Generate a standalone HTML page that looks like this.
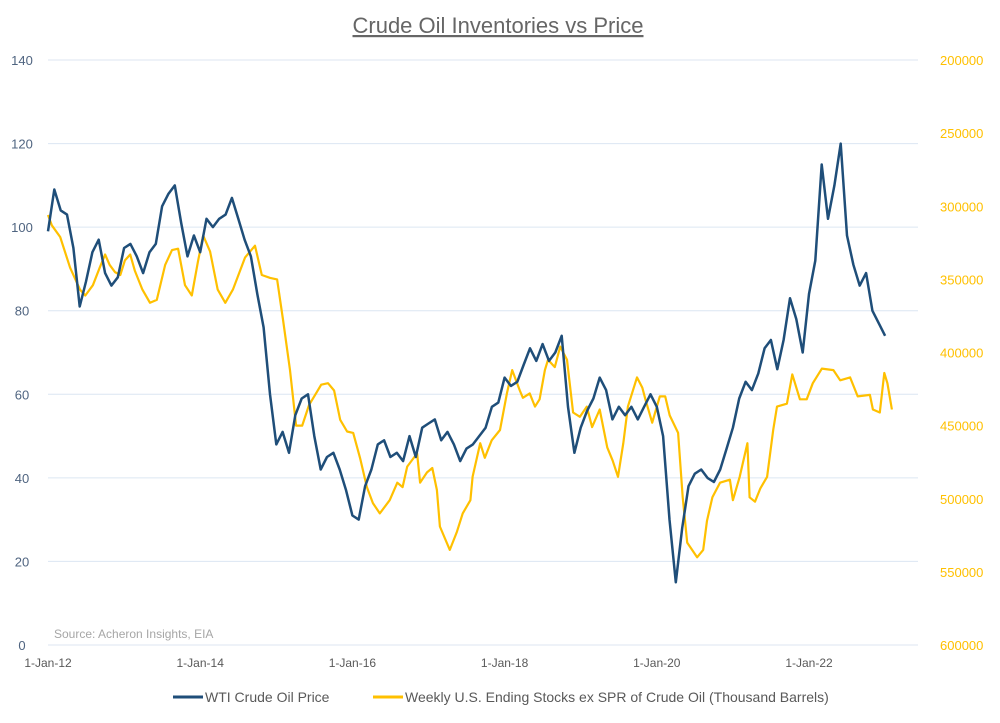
<!DOCTYPE html>
<html><head><meta charset="utf-8"><style>
body{margin:0;background:#fff}
svg{display:block;font-family:"Liberation Sans",sans-serif}
</style></head><body>
<svg id="chart" width="1000" height="723" viewBox="0 0 1000 723">
<text x="498" y="33" text-anchor="middle" font-size="22" fill="#666666" text-decoration="underline">Crude Oil Inventories vs Price</text>
<g id="grid"></g><g id="ylab"></g><g id="y2lab"></g><g id="xlab"></g>
<text x="54" y="638" font-size="12" fill="#a6a6a6">Source: Acheron Insights, EIA</text>
<g id="series"></g>
<g>
<g><line x1="173" y1="697" x2="203" y2="697" stroke="#1f4e79" stroke-width="3"/><text x="205" y="702" font-size="14" fill="#595959">WTI Crude Oil Price</text></g>
<g><line x1="373" y1="697" x2="403" y2="697" stroke="#ffc000" stroke-width="3"/><text x="405" y="702" font-size="14" fill="#595959">Weekly U.S. Ending Stocks ex SPR of Crude Oil  (Thousand Barrels)</text></g>
</g>
</svg>
<script>
const priceStartYear = 2012;
const priceValues = [
99,109,104,103,95,81,87,94,97,89,86,88,
95,96,93,89,94,96,105,108,110,101,93,98,
94,102,100,102,103,107,102,97,93,84,76,60,
48,51,46,55,59,60,50,42,45,46,42,37,
31,30,38,42,48,49,45,46,44,50,45,52,
53,54,49,51,48,44,47,48,50,52,57,58,
64,62,63,67,71,68,72,68,70,74,57,46,
52,56,59,64,61,54,57,55,57,54,57,60,
57,50,30,15,28,38,41,42,40,39,42,47,
52,59,63,61,65,71,73,66,73,83,78,70,
84,92,115,102,110,120,98,91,86,89,80,77,
74];
const stockDates = [2012.0,2012.05,2012.16,2012.29,2012.42,2012.49,2012.59,2012.68,2012.75,2012.81,2012.88,2012.95,2013.01,2013.08,2013.14,2013.24,2013.34,2013.43,2013.54,2013.63,2013.71,2013.8,2013.89,2013.97,2014.04,2014.13,2014.23,2014.33,2014.43,2014.59,2014.72,2014.81,2014.92,2015.01,2015.09,2015.18,2015.26,2015.34,2015.43,2015.51,2015.59,2015.68,2015.76,2015.84,2015.93,2016.01,2016.1,2016.19,2016.27,2016.36,2016.49,2016.59,2016.66,2016.72,2016.85,2016.89,2016.98,2017.05,2017.11,2017.15,2017.28,2017.37,2017.45,2017.55,2017.58,2017.68,2017.74,2017.83,2017.94,2018.03,2018.1,2018.2,2018.24,2018.33,2018.4,2018.46,2018.53,2018.57,2018.66,2018.73,2018.82,2018.9,2018.99,2019.08,2019.15,2019.25,2019.35,2019.42,2019.49,2019.56,2019.62,2019.74,2019.81,2019.85,2019.94,2020.04,2020.11,2020.17,2020.28,2020.34,2020.4,2020.53,2020.61,2020.66,2020.73,2020.83,2020.96,2021.0,2021.09,2021.19,2021.22,2021.29,2021.36,2021.45,2021.53,2021.58,2021.71,2021.78,2021.88,2021.97,2022.05,2022.17,2022.32,2022.41,2022.54,2022.64,2022.8,2022.84,2022.93,2022.99,2023.03,2023.09];
const stockValues = [306000,313000,321000,342000,357000,361000,354000,342000,333000,340000,345000,347000,337000,333000,344000,357000,366000,364000,340000,330000,329000,354000,361000,338000,320000,331000,357000,366000,357000,335000,327000,347000,349000,350000,378000,412000,450000,450000,436000,429000,422000,421000,426000,446000,454000,455000,472000,492000,503000,510000,501000,489000,492000,478000,469000,489000,482000,479000,494000,519000,535000,523000,510000,501000,485000,462000,472000,460000,453000,428000,412000,426000,431000,428000,437000,432000,412000,405000,410000,396000,405000,441000,444000,437000,451000,439000,465000,474000,485000,462000,437000,417000,424000,432000,448000,430000,430000,443000,455000,499000,530000,540000,535000,515000,499000,489000,487000,501000,485000,462000,499000,502000,493000,485000,453000,437000,435000,415000,432000,432000,421000,411000,412000,419000,417000,430000,429000,439000,441000,414000,421000,439000];
const leftTicks = [0,20,40,60,80,100,120,140];
const rightTicks = [200000,250000,300000,350000,400000,450000,500000,550000,600000];
const xTickLabels = ["1-Jan-12","1-Jan-14","1-Jan-16","1-Jan-18","1-Jan-20","1-Jan-22"];
const xTickYears = [2012,2014,2016,2018,2020,2022];

const NS="http://www.w3.org/2000/svg";
const X0=48,X1=918,YT=60,YB=645;
const xs=t=>X0+(t-2012)*76.1;
const yL=v=>YB-(v/140)*(YB-YT);
const yR=v=>YT+((v-200000)/400000)*(YB-YT);
function mk(tag,attrs,parent,text){const e=document.createElementNS(NS,tag);for(const k in attrs)e.setAttribute(k,attrs[k]);if(text!==undefined)e.textContent=text;document.getElementById(parent).appendChild(e);return e;}
leftTicks.forEach(v=>{
  const g=mk('line',{x1:X0,x2:X1,y1:yL(v),y2:yL(v),stroke:'#dce6f2','stroke-width':1},'grid');
  
  
  const t=mk('text',{x:22,y:yL(v)+5,'text-anchor':'middle','font-size':13,fill:'#4f6480'},'ylab',String(v));
  
  
});
rightTicks.forEach(v=>{
  const t=mk('text',{x:940,y:yR(v)+5,'font-size':13,fill:'#ffc000'},'y2lab',String(v));
  
  
});
xTickLabels.forEach((s,i)=>{
  const t=mk('text',{x:xs(xTickYears[i]),y:667,'text-anchor':'middle','font-size':12,fill:'#595959'},'xlab',s);
  
  
});
const sp=stockDates.map((d,i)=>xs(d).toFixed(1)+','+yR(stockValues[i]).toFixed(1)).join(' ');
const s1=mk('polyline',{points:sp,fill:'none',stroke:'#ffc000','stroke-width':2.2,'stroke-linejoin':'round'},'series');


const pp=priceValues.map((v,i)=>xs(priceStartYear+i/12).toFixed(1)+','+yL(v).toFixed(1)).join(' ');
const s2=mk('polyline',{points:pp,fill:'none',stroke:'#1f4e79','stroke-width':2.5,'stroke-linejoin':'round'},'series');


</script>
</body></html>
